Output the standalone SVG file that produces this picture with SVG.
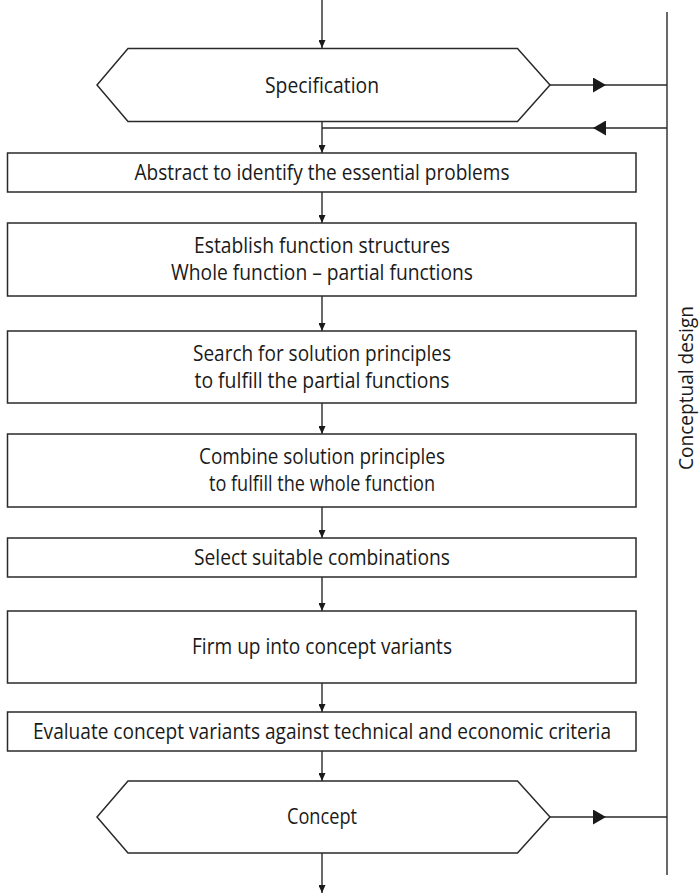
<svg xmlns="http://www.w3.org/2000/svg" width="700" height="893" viewBox="0 0 700 893">
  <style>
    .box { fill: #ffffff; stroke: #2a2a2a; stroke-width: 1.5; }
    .wire { fill: none; stroke: #2a2a2a; stroke-width: 1.4; }
    .lbl { font-family: "Open Sans", "Noto Sans", sans-serif; font-size: 21px; fill: #1a1a1a; text-anchor: middle; }
    .side { font-family: "Open Sans", "Noto Sans", sans-serif; font-size: 19.5px; fill: #1a1a1a; text-anchor: middle; }
  </style>
  <defs>
    <marker id="arrowSmall" markerUnits="userSpaceOnUse" markerWidth="8" markerHeight="7" refX="8" refY="3.5" orient="auto">
      <path d="M0,0 L8,3.5 L0,7 z" fill="#1a1a1a"/>
    </marker>
    <marker id="arrowBig" markerUnits="userSpaceOnUse" markerWidth="13" markerHeight="15" refX="13" refY="7.5" orient="auto">
      <path d="M0,0 L13,7.5 L0,15 z" fill="#1a1a1a"/>
    </marker>
  </defs>
  <rect width="700" height="893" fill="#ffffff"/>

  <!-- connectors -->
  <g id="connectors">
    <path class="wire" d="M322,0 V48" marker-end="url(#arrowSmall)"/>
    <path class="wire" d="M322,122 V153" marker-end="url(#arrowSmall)"/>
    <path class="wire" d="M322,192 V223" marker-end="url(#arrowSmall)"/>
    <path class="wire" d="M322,296 V331" marker-end="url(#arrowSmall)"/>
    <path class="wire" d="M322,403 V434" marker-end="url(#arrowSmall)"/>
    <path class="wire" d="M322,507 V538" marker-end="url(#arrowSmall)"/>
    <path class="wire" d="M322,577 V611" marker-end="url(#arrowSmall)"/>
    <path class="wire" d="M322,683 V712" marker-end="url(#arrowSmall)"/>
    <path class="wire" d="M322,751 V781" marker-end="url(#arrowSmall)"/>
    <path class="wire" d="M322,853 V893" marker-end="url(#arrowSmall)"/>
    <!-- phase bar on the right -->
    <path class="wire" d="M667,12 V875"/>
    <!-- outputs to and feedback from the phase bar -->
    <path class="wire" d="M550,85 H606 H667" marker-mid="url(#arrowBig)"/>
    <path class="wire" d="M667,128 H593 H322" marker-mid="url(#arrowBig)"/>
    <path class="wire" d="M550,817 H606 H667" marker-mid="url(#arrowBig)"/>
  </g>

  <g id="specification">
    <polygon class="box" points="128,48.5 517.5,48.5 550,85 517.5,121.5 128,121.5 97,85"/>
    <text class="lbl" x="322" y="92.5" textLength="114" lengthAdjust="spacingAndGlyphs">Specification</text>
  </g>

  <g id="abstract">
    <rect class="box" x="7.5" y="153" width="628.5" height="39"/>
    <text class="lbl" x="322" y="179.5" textLength="375" lengthAdjust="spacingAndGlyphs">Abstract to identify the essential problems</text>
  </g>

  <g id="function-structures">
    <rect class="box" x="7.5" y="223" width="628.5" height="73"/>
    <text class="lbl" x="322" y="253" textLength="256" lengthAdjust="spacingAndGlyphs">Establish function structures</text>
    <text class="lbl" x="322" y="280" textLength="302" lengthAdjust="spacingAndGlyphs">Whole function – partial functions</text>
  </g>

  <g id="solution-principles">
    <rect class="box" x="7.5" y="331" width="628.5" height="72"/>
    <text class="lbl" x="322" y="360.5" textLength="258" lengthAdjust="spacingAndGlyphs">Search for solution principles</text>
    <text class="lbl" x="322" y="387.5" textLength="255" lengthAdjust="spacingAndGlyphs">to fulfill the partial functions</text>
  </g>

  <g id="combine">
    <rect class="box" x="7.5" y="434" width="628.5" height="73"/>
    <text class="lbl" x="322" y="464" textLength="246" lengthAdjust="spacingAndGlyphs">Combine solution principles</text>
    <text class="lbl" x="322" y="491" textLength="226" lengthAdjust="spacingAndGlyphs">to fulfill the whole function</text>
  </g>

  <g id="select">
    <rect class="box" x="7.5" y="538" width="628.5" height="39"/>
    <text class="lbl" x="322" y="564.5" textLength="256" lengthAdjust="spacingAndGlyphs">Select suitable combinations</text>
  </g>

  <g id="firm-up">
    <rect class="box" x="7.5" y="611" width="628.5" height="72"/>
    <text class="lbl" x="322" y="654" textLength="260" lengthAdjust="spacingAndGlyphs">Firm up into concept variants</text>
  </g>

  <g id="evaluate">
    <rect class="box" x="7.5" y="712" width="628.5" height="39"/>
    <text class="lbl" x="322" y="739" textLength="578" lengthAdjust="spacingAndGlyphs">Evaluate concept variants against technical and economic criteria</text>
  </g>

  <g id="concept">
    <polygon class="box" points="128,781 517.5,781 550,817 517.5,853 128,853 97,817"/>
    <text class="lbl" x="322" y="824" textLength="70" lengthAdjust="spacingAndGlyphs">Concept</text>
  </g>

  <g id="phase-label">
    <text class="side" transform="translate(693,388) rotate(-90)" textLength="164" lengthAdjust="spacingAndGlyphs">Conceptual design</text>
  </g>
</svg>
